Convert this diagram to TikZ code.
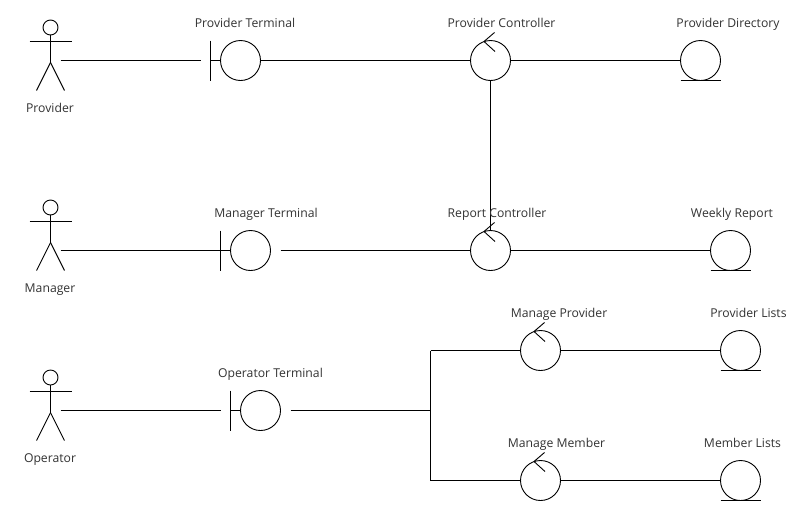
\documentclass[tikz,border=0pt]{standalone}
\usepackage{fontspec}
\setmainfont{Open Sans}
\definecolor{lbl}{HTML}{333333}
\tikzset{
  every picture/.style={x=1pt,y=-1pt},
  conn/.style={draw=black,line width=1pt},
  glyph/.style={circle,draw=black,line width=0.9pt,minimum size=40pt,inner sep=0pt,outer sep=0pt},
  headc/.style={circle,draw=black,line width=0.9pt,minimum size=15pt,inner sep=0pt,outer sep=0pt},
  lab/.style={font=\fontsize{12.2}{14}\selectfont,text=lbl,inner sep=0pt,anchor=base},
  part/.style={draw=black,line width=0.9pt},
  actorfig/.pic={
    \node[headc] (-head) at (0,-33) {};
    \draw[part] (-head.south) -- (0,2) -- (-14,30);
    \draw[part] (0,2) -- (14,30);
    \draw[part] (-21,-19) -- (21,-19);
  },
  boundaryfig/.pic={
    \node[glyph] (-c) at (0,0) {};
    \draw[part] (-30,-20) -- (-30,20);
    \draw[part] (-30,0) -- (-c.west);
  },
  controlfig/.pic={
    \node[glyph] (-c) at (0,0) {};
    \draw[part] (4,-28) -- (-6.5,-19) -- (4.5,-9);
  },
  entityfig/.pic={
    \node[glyph] (-c) at (0,0) {};
    \draw[part] (-20,20) -- (20,20);
  }
}
\begin{document}
\begin{tikzpicture}
\useasboundingbox[fill=white] (0,0) rectangle (810,520);
\begin{scope}[shift={(0.5,0.5)}]
% glyphs
\pic (ap) at (50,60) {actorfig};
\pic (am) at (50,240) {actorfig};
\pic (ao) at (50,410) {actorfig};
\pic (bp) at (240,60) {boundaryfig};
\pic (bm) at (250,250) {boundaryfig};
\pic (bo) at (260,410) {boundaryfig};
\pic (cp) at (490,60) {controlfig};
\pic (cr) at (490,250) {controlfig};
\pic (cmp) at (540,350) {controlfig};
\pic (cmm) at (540,480) {controlfig};
\pic (ed) at (700,60) {entityfig};
\pic (ew) at (730,250) {entityfig};
\pic (epl) at (740,350) {entityfig};
\pic (eml) at (740,480) {entityfig};
% free ends
\coordinate (p1) at (60,60);
\coordinate (p2) at (200,60);
\coordinate (m1) at (60,250);
\coordinate (m2) at (220,250);
\coordinate (m3) at (280,250);
\coordinate (o1) at (60,410);
\coordinate (o2) at (220,410);
\coordinate (o3) at (290,410);
\coordinate (j) at (430,410);
\coordinate (jt) at (430,350);
\coordinate (jb) at (430,480);
% connectors
\draw[conn] (p1) -- (p2);
\draw[conn] (bp-c) -- (cp-c);
\draw[conn] (cp-c) -- (ed-c);
\draw[conn] (cp-c) -- (cr-c);
\draw[conn] (m1) -- (m2);
\draw[conn] (m3) -- (cr-c);
\draw[conn] (cr-c) -- (ew-c);
\draw[conn] (o1) -- (o2);
\draw[conn] (o3) -- (j);
\draw[conn] (jt) -- (jb);
\draw[conn] (jt) -- (cmp-c);
\draw[conn] (jb) -- (cmm-c);
\draw[conn] (cmp-c) -- (epl-c);
\draw[conn] (cmm-c) -- (eml-c);
% labels
\node[lab] (t1) at (49.5,111.5) {Provider};
\node[lab] (t2) at (244.5,26.5) {Provider Terminal};
\node[lab] (t3) at (501,26.5) {Provider Controller};
\node[lab] (t4) at (727.5,26.5) {Provider Directory};
\node[lab] (t5) at (49.5,291.5) {Manager};
\node[lab] (t6) at (265.5,216.5) {Manager Terminal};
\node[lab] (t7) at (496.5,216.5) {Report Controller};
\node[lab] (t8) at (731.5,216.5) {Weekly Report};
\node[lab] (t9) at (49.5,461.5) {Operator};
\node[lab] (t10) at (270,376.5) {Operator Terminal};
\node[lab] (t11) at (558.5,316.5) {Manage Provider};
\node[lab] (t12) at (748,316.5) {Provider Lists};
\node[lab] (t13) at (556,446.5) {Manage Member};
\node[lab] (t14) at (742,446.5) {Member Lists};
\end{scope}
\end{tikzpicture}
\end{document}
